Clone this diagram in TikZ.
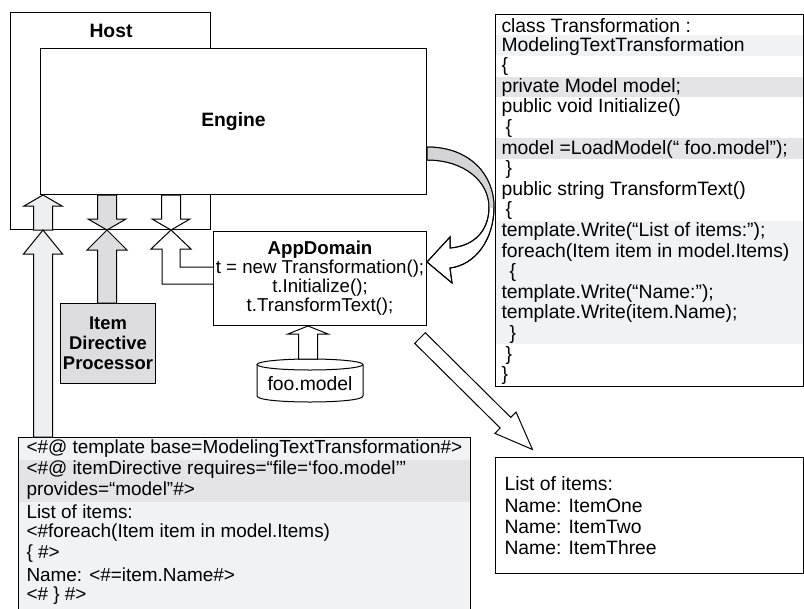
\documentclass[tikz,border=0pt]{standalone}
\usepackage{fontspec}
\setmainfont{Liberation Sans}
\usetikzlibrary{calc}

\definecolor{rowlight}{RGB}{241,242,244}
\definecolor{rowdark}{RGB}{228,228,230}
\definecolor{arrlight}{RGB}{238,239,241}
\definecolor{arrgray}{RGB}{221,221,223}
\definecolor{bendgray}{RGB}{212,212,214}

\newcommand\pxu{0.75}
\newcommand\blockarr[6]{%
  \draw[fill=#3] let \p1=(#1), \p2=(#2),
    \n1={atan2(\y2-\y1,\x2-\x1)}, \n2={veclen(\x2-\x1,\y2-\y1)} in
    [shift={(\p1)}, rotate=\n1]
    (0pt,{-#6*\pxu pt}) -- ({\n2-#4*\pxu pt},{-#6*\pxu pt}) -- ({\n2-#4*\pxu pt},{-#5*\pxu pt})
    -- ({\n2+0pt},0pt) -- ({\n2-#4*\pxu pt},{#5*\pxu pt}) -- ({\n2-#4*\pxu pt},{#6*\pxu pt})
    -- (0pt,{#6*\pxu pt}) -- cycle;}
\newcommand\bendpath{(427,147) .. controls (470,147) and (494,175) .. (494,207)
  .. controls (494,240) and (475,265) .. (450,268) -- (452,283) -- (427,262) -- (450,237)
  -- (450,248) .. controls (475,246) and (489,230) .. (489,207)
  .. controls (489,182) and (465,160) .. (427,160) -- cycle}

\begin{document}
\begin{tikzpicture}[x=0.75pt, y=-0.75pt, line width=0.75pt,
  font=\fontsize{14.5pt}{16pt}\selectfont,
  box/.style={draw, inner sep=0pt, anchor=north west},
  boxsize/.style 2 args={minimum width=#1*0.75pt, minimum height=#2*0.75pt},
  lbl/.style={font=\fontsize{14.5pt}{15pt}\selectfont\bfseries},
  codeline/.style={anchor=west, inner sep=0pt}]
\useasboundingbox (0,0) rectangle (804,608);

\node[box, boxsize={200}{217}] (host) at (10,12) {};
\node[lbl] (hostlabel) at (111,31) {Host};
\node[box, fill=white, boxsize={386}{146}, lbl] (engine) at (40,48) {Engine};

\coordinate (xa) at (43,0);
\coordinate (xb) at (107,0);
\coordinate (xc) at (171,0);
\coordinate (xd) at (308,0);

\node[box, fill=arrgray, boxsize={95}{80}, align=center,
  font=\fontsize{13.8pt}{15pt}\selectfont\bfseries] (idp) at (60,303) {Item\\Directive\\Processor};
\node[box, boxsize={213}{94}, align=center,
  font=\fontsize{14pt}{14.25pt}\selectfont] (appdomain) at (213,231)
  {\textbf{AppDomain}\\t = new Transformation();\\t.Initialize();\\t.TransformText();};

\draw[fill=white] (257,364.5) -- (257,396) .. controls (257,404) and (363,404) .. (363,396) -- (363,364.5);
\draw[fill=white] (310,364.5) ellipse [x radius=53, y radius=5.5];
\node (foomodel) at (310,384) {foo.model};
\coordinate (cyltop) at (308,359);

\blockarr{host.south -| xa}{engine.south -| xa}{arrlight}{11}{19}{9.5}
\blockarr{engine.south -| xb}{host.south -| xb}{arrgray}{11}{19}{9.5}
\blockarr{engine.south -| xc}{host.south -| xc}{white}{11}{19}{9.5}

\node[box, fill=rowlight, boxsize={452}{180}] (tmpl) at (18,437) {};
\fill[rowdark] (18.5,459.5) rectangle (469.5,501.5);
\foreach \txt [count=\i from 0] in {<\#@ template base=ModelingTextTransformation\#>,
  <\#@ itemDirective requires=“file=‘foo.model’”, provides=“model”\#>, List of items:,
  <\#foreach(Item item in model.Items), \{ \#>, Name: <\#=item.Name\#>, <\# \} \#>}
  \node[codeline, font=\fontsize{14.2pt}{16pt}\selectfont] (tmpl-\i) at (26,449+21*\i) {\txt};

\blockarr{tmpl.north -| xa}{host.south -| xa}{arrlight}{24}{19.5}{9.5}
\blockarr{idp.north -| xb}{host.south -| xb}{arrgray}{20}{20}{9.5}
\draw[fill=white] (appdomain.west |- 0,267) -- (180,267) -- (180,249) -- (191,249)
  -- (host.south -| xc) -- (151,249) -- (162,249) -- (162,284) -- (appdomain.west |- 0,284);
\blockarr{cyltop}{appdomain.south -| xd}{white}{8}{20}{9.5}

\fill[rowlight] (495.5,35.3) rectangle (802.5,55.9);
\fill[rowdark] (495.5,76.5) rectangle (802.5,97.1);
\fill[rowdark] (495.5,138.3) rectangle (802.5,158.9);
\fill[rowlight] (495.5,220.7) rectangle (802.5,344.3);
\node[box, boxsize={308}{372}] (code) at (495,14) {};
\foreach \ind/\txt [count=\i from 0] in {0/class Transformation :, 0/ModelingTextTransformation,
  0/\{, 0/private Model model;, 0/public void Initialize(), 4/\{,
  0/model =LoadModel(“ foo.model”);, 4/\}, 0/public string TransformText(), 4/\{,
  0/template.Write(“List of items:”);, 0/foreach(Item item in model.Items), 8/\{,
  0/template.Write(“Name:”);, 0/template.Write(item.Name);, 8/\}, 4/\}, 0/\}}
  \node[codeline] (code-\i) at (501+\ind,25.5+20.6*\i) {\txt};

\draw[fill=white] \bendpath;
\begin{scope}
\clip (420,140) rectangle (500,207);
\fill[bendgray] \bendpath;
\end{scope}
\draw \bendpath;

\node[box, boxsize={308}{116}] (output) at (495,457) {};
\node[anchor=west, align=left, inner sep=0pt, font=\fontsize{14.5pt}{16pt}\selectfont]
  (outtext) at (504,516) {List of items:\\Name: ItemOne\\Name: ItemTwo\\Name: ItemThree};
\blockarr{$(appdomain.south east)+(-7,12)$}{$(output.north west)+(38,-7)$}{white}{38}{15}{7.5}
\end{tikzpicture}
\end{document}
